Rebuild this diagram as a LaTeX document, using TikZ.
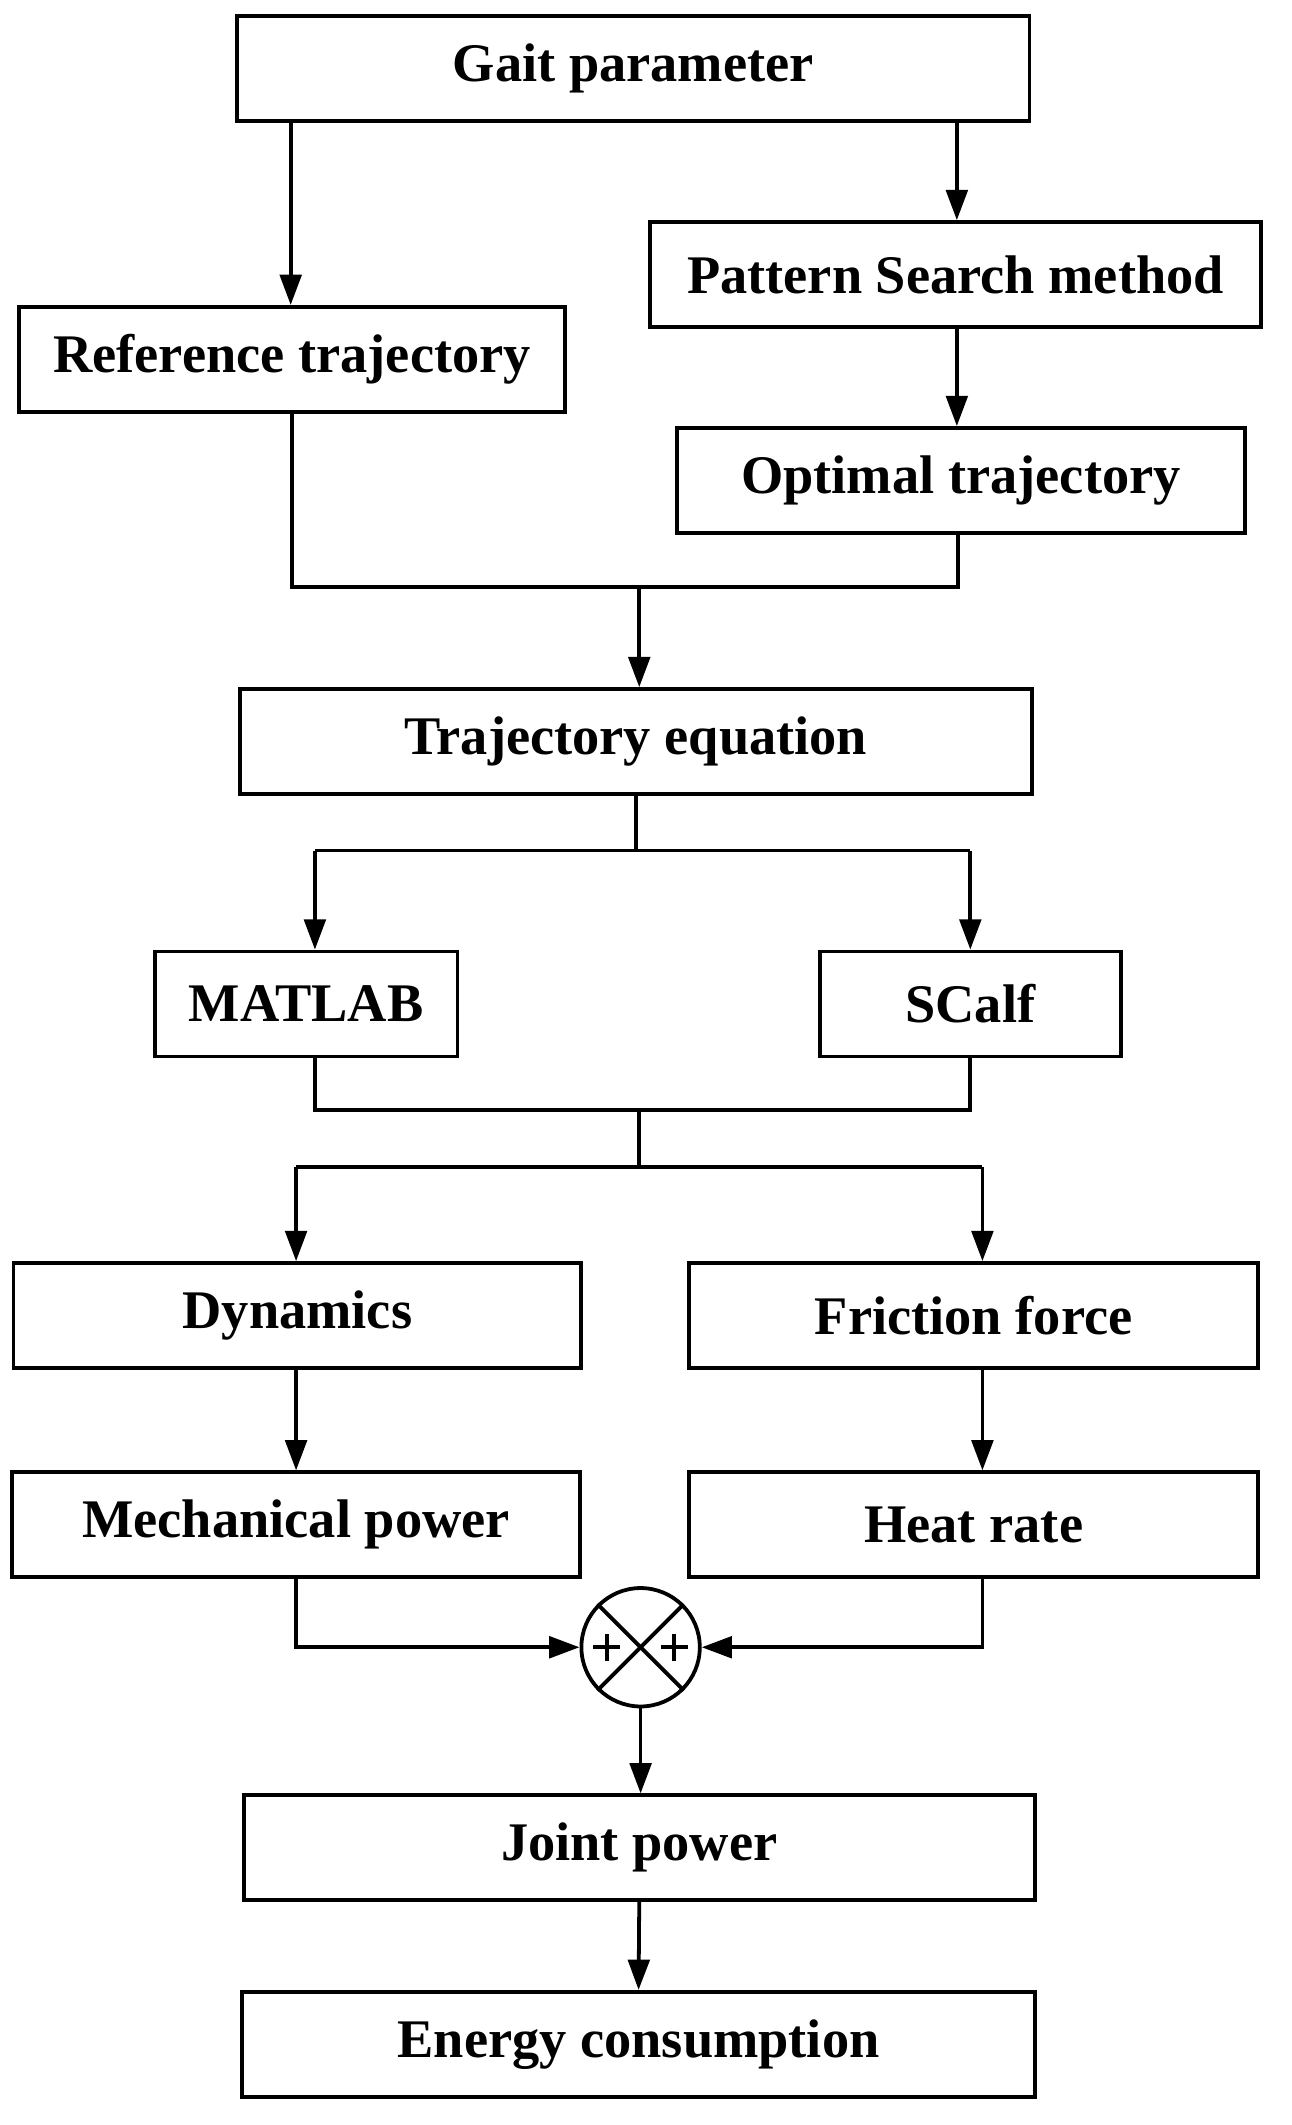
\documentclass[tikz,border=0pt]{standalone}
\usepackage{fontspec}
\setmainfont{Liberation Serif}
\usetikzlibrary{arrows.meta}
\begin{document}
\begin{tikzpicture}[x=0.02cm,y=-0.02cm,
  line width=1.6pt,
  box/.style={draw,rectangle,inner sep=0pt,minimum height=1.56cm,font=\fontsize{23}{27}\selectfont\bfseries},
  arr/.style={-{Triangle[length=0.45cm,width=0.32cm]}}]
\useasboundingbox (0,0) rectangle (960,1579);
\node[box,minimum width=11.78cm] (gait) at (470.5,51) {Gait parameter};
\node[box,minimum width=9.08cm] (pat) at (710,204) {Pattern Search method};
\node[box,minimum width=8.12cm] (ref) at (217,267) {Reference trajectory};
\node[box,minimum width=8.44cm] (opt) at (714,357) {Optimal trajectory};
\node[box,minimum width=11.78cm] (traj) at (472.5,551) {Trajectory equation};
\node[box,minimum width=4.5cm] (mat) at (227.5,746) {MATLAB};
\node[box,minimum width=4.48cm] (sc) at (721,746) {SCalf};
\node[box,minimum width=8.44cm] (dyn) at (221,977.5) {Dynamics};
\node[box,minimum width=8.46cm] (fric) at (723.5,977.5) {Friction force};
\node[box,minimum width=8.44cm] (mech) at (220,1133) {Mechanical power};
\node[box,minimum width=8.46cm] (heat) at (723.5,1133) {Heat rate};
\node[draw,circle,inner sep=0pt,minimum size=1.76cm] (circ) at (476,1224) {};
\node[box,minimum width=11.76cm] (joint) at (475,1373) {Joint power};
\node[box,minimum width=11.78cm] (energy) at (474.5,1519) {Energy consumption};
% X and plus signs
\draw (circ.north east) -- (circ.south west);
\draw (circ.north west) -- (circ.south east);
\draw (441,1224) -- (461,1224) (451,1214) -- (451,1234);
\draw (491,1224) -- (511,1224) (501,1214) -- (501,1234);
% connectors
\coordinate (g1) at (216,90);
\coordinate (g2) at (711,90);
\draw[arr] (g1) -- (g1 |- ref.north);
\draw[arr] (g2) -- (g2 |- pat.north);
\draw[arr] (pat.south -| g2) -- (g2 |- opt.north);
\coordinate (m1) at (475,436);
\draw (ref.south) |- (m1) -| (712,396);
\draw[arr] (m1) -- (m1 |- traj.north);
\coordinate (s2l) at (234,632);
\coordinate (s2r) at (721,632);
\draw (traj.south) -- (traj.south |- s2l);
\draw (s2l) -- (s2r);
\draw[arr] (s2l) -- (s2l |- mat.north);
\draw[arr] (s2r) -- (s2r |- sc.north);
\coordinate (m2) at (475,825);
\draw (s2l |- mat.south) |- (m2) -| (s2r |- sc.south);
\coordinate (s3) at (475,867);
\coordinate (s3l) at (220,867);
\coordinate (s3r) at (730,867);
\draw (m2) -- (s3);
\draw (s3l) -- (s3r);
\draw[arr] (s3l) -- (s3l |- dyn.north);
\draw[arr] (s3r) -- (s3r |- fric.north);
\draw[arr] (s3l |- dyn.south) -- (s3l |- mech.north);
\draw[arr] (s3r |- fric.south) -- (s3r |- heat.north);
\draw[arr] (s3l |- mech.south) |- (circ.west);
\draw[arr] (s3r |- heat.south) |- (circ.east);
\draw[arr] (circ.south) -- (circ.south |- joint.north);
\draw[arr] (joint.south) -- (energy.north);
\end{tikzpicture}
\end{document}
